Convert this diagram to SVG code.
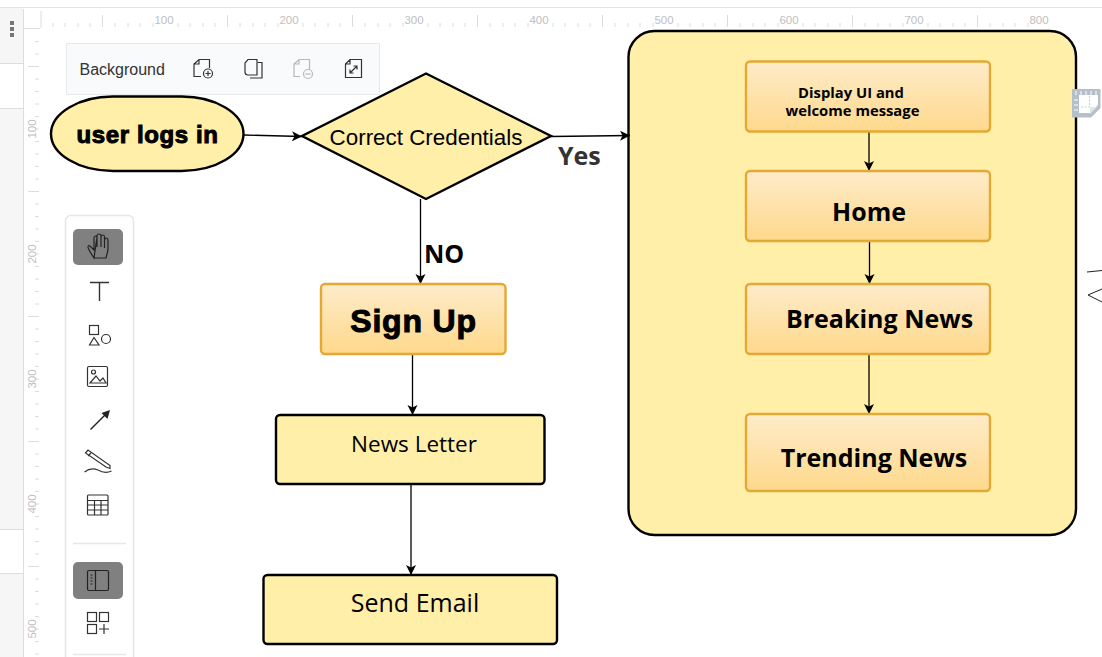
<svg xmlns="http://www.w3.org/2000/svg" width="1102" height="657" viewBox="0 0 1102 657">
<style>
.tk{stroke:#dcdcdc;stroke-width:1;fill:none}
.rl{font:11.5px "Liberation Sans",Arial,sans-serif;fill:#c0c0c0;text-anchor:middle}
.ui{fill:none;stroke:#333;stroke-width:1.2}
.soft{fill:none;stroke:#b8b8b8;stroke-width:1.2}
.nd{fill:#ffefa8;stroke:#000;stroke-width:2.4}
.or{fill:url(#og);stroke:#e3a935;stroke-width:2.4}
.os{font-family:"Open Sans","Noto Sans",sans-serif;fill:#000;text-anchor:middle}
.ar{font-family:"Liberation Sans",Arial,sans-serif;fill:#000;text-anchor:middle}
.cn{fill:none;stroke:#000;stroke-width:1.3;marker-end:url(#ah)}
</style>
<defs>
<linearGradient id="og" x1="0" y1="0" x2="0" y2="1"><stop offset="0" stop-color="#fdebc9"/><stop offset="1" stop-color="#ffd98c"/></linearGradient>
<marker id="ah" markerUnits="userSpaceOnUse" markerWidth="12" markerHeight="12" refX="10" refY="5" orient="auto"><path d="M0 0L10 5L0 10L2.500 5Z" fill="#000"/></marker>
</defs>
<rect width="1102" height="657" fill="#fff"/>
<g id="chrome">
<path d="M0 7.500H1102" stroke="#e2e2e2" fill="none"/>
<rect x="0" y="8" width="23" height="649" fill="#f6f6f6"/>
<rect x="0" y="64" width="23" height="44" fill="#fff"/>
<rect x="0" y="529" width="23" height="44" fill="#fff"/>
<path d="M0 63.500H23M0 108.500H23M0 529.500H23M0 573.500H23M23.500 9V657M23 28.500H40" stroke="#dedede" fill="none"/>
<rect x="10" y="21" width="4" height="4" fill="#777"/><rect x="10" y="27" width="4" height="4" fill="#777"/><rect x="10" y="33" width="4" height="4" fill="#777"/>
<path class="tk" d="M41 11V28M102.500 15V27M227.500 15V27M352.500 15V27M477.500 15V27M602.500 15V27M727.500 15V27M852.500 15V27M977.500 15V27M53 23V27M65 23V27M78 23V27M90 23V27M115 23V27M128 23V27M140 23V27M153 23V27M178 23V27M190 23V27M203 23V27M215 23V27M240 23V27M253 23V27M265 23V27M278 23V27M303 23V27M315 23V27M328 23V27M340 23V27M365 23V27M378 23V27M390 23V27M403 23V27M428 23V27M440 23V27M453 23V27M465 23V27M490 23V27M503 23V27M515 23V27M528 23V27M553 23V27M565 23V27M578 23V27M590 23V27M615 23V27M628 23V27M640 23V27M653 23V27M678 23V27M690 23V27M703 23V27M715 23V27M740 23V27M753 23V27M765 23V27M778 23V27M803 23V27M815 23V27M828 23V27M840 23V27M865 23V27M878 23V27M890 23V27M903 23V27M928 23V27M940 23V27M953 23V27M965 23V27M990 23V27M1003 23V27M1015 23V27M1028 23V27"/>
<path class="tk" d="M28 66.500H39M28 191.500H39M28 316.500H39M28 441.500H39M28 566.500H39M35 41.500H39M35 54H39M35 79H39M35 91.500H39M35 104H39M35 116.500H39M35 129H39M35 141.500H39M35 154H39M35 166.500H39M35 179H39M35 204H39M35 216.500H39M35 229H39M35 241.500H39M35 254H39M35 266.500H39M35 279H39M35 291.500H39M35 304H39M35 329H39M35 341.500H39M35 354H39M35 366.500H39M35 379H39M35 391.500H39M35 404H39M35 416.500H39M35 429H39M35 454H39M35 466.500H39M35 479H39M35 491.500H39M35 504H39M35 516.500H39M35 529H39M35 541.500H39M35 554H39M35 579H39M35 591.500H39M35 604H39M35 616.500H39M35 629H39M35 641.500H39M35 654H39"/>
<text class="rl" x="164" y="24">100</text><text class="rl" x="289" y="24">200</text><text class="rl" x="414" y="24">300</text><text class="rl" x="539" y="24">400</text><text class="rl" x="664" y="24">500</text><text class="rl" x="789" y="24">600</text><text class="rl" x="914" y="24">700</text><text class="rl" x="1039" y="24">800</text>
<text class="rl" transform="translate(36 129) rotate(-90)">100</text><text class="rl" transform="translate(36 254) rotate(-90)">200</text><text class="rl" transform="translate(36 379) rotate(-90)">300</text><text class="rl" transform="translate(36 504) rotate(-90)">400</text><text class="rl" transform="translate(36 629) rotate(-90)">500</text>
<rect x="66.500" y="43.500" width="313" height="51" fill="#f9fafc" stroke="#e8e9ec"/>
<text x="79.500" y="75" font-family="'Liberation Sans',sans-serif" font-size="16" fill="#333">Background</text>
<path class="ui" d="M201 76.500H194V64L199 59.500H209.500V68M194 64H199V59.500"/><circle class="ui" cx="208" cy="73.500" r="4.500"/><path class="ui" d="M205.500 73.500H210.500M208 71V76"/>
<path class="ui" d="M248 59.500H257V75H248Q245 75 245 72V63Z"/><path class="ui" d="M257.500 62.500H262V78H250"/>
<path class="soft" d="M300 76.500H294V64L299 59.500H309.500V69M294 64H299V59.500"/><circle class="soft" cx="308" cy="74" r="4.500"/><path class="soft" d="M305.500 74H310.500"/>
<path class="ui" d="M345.500 64L350 59.500H361.500V77.500H345.500ZM345.500 64H350V59.500M350 73L357 66M353.500 66H357V69.500M350 69.500V73H353.500"/>
<rect x="65.500" y="215.500" width="68" height="450" rx="5" fill="#fff" stroke="#e6e6e6" stroke-width="1.500"/>
<rect x="73" y="229" width="50" height="36" rx="5" fill="#808080"/>
<path d="M94 258H106L108 250V240Q108 238 106.500 238Q105 238 104.500 240V248M104.500 240V237Q104.500 235 103 235Q101 235 101 237V247M101 237V235.500Q101 234 99 234Q97 234 97 236V247M97 237Q97 236 95.500 236Q94 236 94 238V250L90 246Q88 245 88 247Q88 249 94 258Z" fill="none" stroke="#222" stroke-width="1.200"/>
<path d="M90 282.500H109M99.500 282.500V301" fill="none" stroke="#333" stroke-width="1.400"/>
<rect class="ui" x="89.500" y="325.500" width="9" height="9"/><path class="ui" d="M94 337.500L99 345H89.500Z"/><circle class="ui" cx="106" cy="339" r="4.500"/>
<rect class="ui" x="87.500" y="366.500" width="20" height="20" rx="1.500"/><circle class="ui" cx="93.500" cy="372" r="2"/><path class="ui" d="M90 383L96 376L100 381L103 378L106 383Z"/>
<path d="M90.500 429.500L107 413" stroke="#222" stroke-width="1.400" fill="none"/><path d="M110 410L107.500 419L101.500 413Z" fill="#222"/>
<path class="ui" d="M85.500 453L88 450L110 465.500V468.500L106 467ZM88 456L91 453"/><path class="ui" d="M84.500 472Q91 467 98 470Q105 474 111.500 471"/>
<rect class="ui" x="87.500" y="495" width="20.500" height="20" rx="1"/><path class="ui" d="M87.500 500.500H108M87.500 505H108M87.500 510H108M94.500 500.500V515M101 500.500V515"/>
<path d="M73 543.500H126" stroke="#e6e6e6" stroke-width="1.500" fill="none"/>
<rect x="73" y="562" width="50" height="37" rx="5" fill="#808080"/>
<rect x="87.500" y="570.500" width="21" height="20" rx="1.500" fill="none" stroke="#222" stroke-width="1.200"/><path d="M95.500 570.500V590.500M90.500 575H92.500M90.500 578H92.500M90.500 581H92.500M90.500 584H92.500" fill="none" stroke="#222" stroke-width="1.200"/>
<rect class="ui" x="87.500" y="612.500" width="9" height="9"/><rect class="ui" x="99.500" y="612.500" width="9" height="9"/><rect class="ui" x="87.500" y="624.500" width="9" height="9"/><path class="ui" d="M99 629H109M104 624V634"/>
<path d="M73 654.500H126" stroke="#e6e6e6" stroke-width="1.500" fill="none"/>
</g>
<rect id="container" x="628.500" y="31" width="447.500" height="504" rx="26" class="nd"/>
<g id="right-fragments">
<path d="M1072 89H1100.500V108L1091 117.500H1072Z" fill="#b4bfca"/>
<path d="M1079 95H1098V105L1090 113H1079Z" fill="#fff"/>
<path d="M1076 91V95M1081 91V95M1086 91V95M1091 91V95M1096 91V95M1074 100H1078M1074 105H1078M1074 110H1078" stroke="#fff" fill="none"/>
<path d="M1089.500 96V107H1078" fill="none" stroke="#a8e0bf" stroke-dasharray="2 1.500"/>
<path d="M1090 114V107H1097Z" fill="#dfe4e9"/>
<path d="M1087 272L1102 270.500M1102 289L1088 295L1102 302" fill="none" stroke="#222" stroke-width="1"/>
</g>
<g id="connectors">
<path class="cn" d="M244 135L302 136.500"/>
<path class="cn" d="M551 136.500L630 135.500"/>
<path class="cn" d="M420.500 199V284"/>
<path class="cn" d="M412.500 354V415"/>
<path class="cn" d="M411 484V575"/>
<path class="cn" d="M869 131.500V171"/>
<path class="cn" d="M869.500 241V284"/>
<path class="cn" d="M869 354V414"/>
</g>
<g id="start"><rect class="nd" x="51" y="96.500" width="192.500" height="74.500" rx="62" ry="37.250"/><text class="ar" x="147.500" y="143" font-size="24" font-weight="700" letter-spacing=".6" stroke="#000" stroke-width="1">user logs in</text></g>
<g id="decision"><path class="nd" d="M426 73.500L551 136L426 199L302 136Z"/><text class="ar" x="426" y="145" font-size="22.400">Correct Credentials</text></g>
<g id="signup"><rect class="or" x="321" y="284" width="184.500" height="70" rx="4"/><text class="ar" x="413.500" y="332" font-size="32" font-weight="700" letter-spacing=".8" stroke="#000" stroke-width="1">Sign Up</text></g>
<g id="newsletter"><rect class="nd" x="276" y="415" width="268.500" height="69" rx="4"/><text class="os" x="414" y="452" font-size="22.500">News Letter</text></g>
<g id="sendemail"><rect class="nd" x="263.500" y="575" width="293.500" height="69" rx="4"/><text class="os" x="415" y="612" font-size="25">Send Email</text></g>
<g id="display"><rect class="or" x="746" y="61.500" width="244" height="70" rx="4"/><text class="os" font-size="14.800" font-weight="700" x="851" y="98">Display UI and</text><text class="os" font-size="14.800" font-weight="700" x="852.500" y="116">welcome message</text></g>
<g id="home"><rect class="or" x="746" y="171" width="244" height="70" rx="4"/><text class="os" x="869" y="220.500" font-size="25" font-weight="700">Home</text></g>
<g id="breaking"><rect class="or" x="746" y="284" width="244" height="70" rx="4"/><text class="os" x="879.500" y="328" font-size="25" font-weight="700">Breaking News</text></g>
<g id="trending"><rect class="or" x="746" y="414" width="244" height="77" rx="4"/><text class="os" x="874" y="467" font-size="25" font-weight="700">Trending News</text></g>
<g id="labels">
<text x="558" y="165" font-family="'Open Sans','Noto Sans',sans-serif" font-size="25" font-weight="700" fill="#333">Yes</text>
<text x="424" y="263" font-family="'Open Sans','Noto Sans',sans-serif" font-size="25" font-weight="700" fill="#000">NO</text>
</g>
</svg>
